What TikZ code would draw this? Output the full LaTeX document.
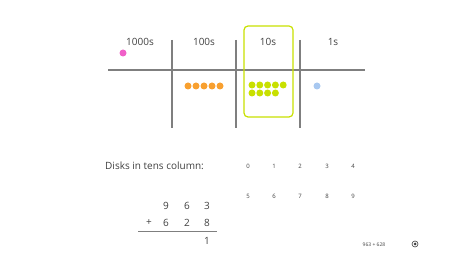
\documentclass[tikz,border=0pt]{standalone}
\usepackage{fontspec}
\setmainfont{Open Sans}
\definecolor{txt}{HTML}{404040}
\definecolor{grline}{HTML}{7F7F7F}
\definecolor{pinkd}{HTML}{F060C8}
\definecolor{oranged}{HTML}{F8A030}
\definecolor{greend}{HTML}{C8E000}
\definecolor{blued}{HTML}{A8C8F0}
\begin{document}
\begin{tikzpicture}[x=1pt,y=-1pt,
  lbl/.style={font=\fontsize{10}{12}\selectfont, text=txt, inner sep=0pt},
  small/.style={font=\fontsize{6}{7}\selectfont, text=txt, inner sep=0pt},
  tiny/.style={font=\fontsize{5}{6}\selectfont, text=txt, inner sep=0pt},
  rule/.style={draw=grline, line width=1.5pt},
  disk/.style={circle, inner sep=0pt, minimum size=7pt}]
\useasboundingbox (0,0) rectangle (473,253);
% axis
\coordinate (hl) at (108,70);
\coordinate (hr) at (365,70);
\draw[rule] (hl) -- (hr);
\foreach \x/\n in {172/a,236/b,300/c}{
  \coordinate (t\n) at (\x,40);
  \coordinate (b\n) at (\x,128);
  \draw[rule] (t\n) -- (b\n);
}
% highlight box
\node[draw=greend, line width=1.2pt, rounded corners=4pt, minimum width=49pt, minimum height=91pt, inner sep=0pt] (box) at (268.5,71.5) {};
% labels
\node[lbl] (l1000) at (140,42) {1000s};
\node[lbl] (l100) at (204,42) {100s};
\node[lbl] (l10) at (268,42) {10s};
\node[lbl] (l1) at (333,42) {1s};
% disks
\node[disk, fill=pinkd] (pk) at (123,53) {};
\foreach \i in {0,...,4}{
  \node[disk, fill=oranged] (o\i) at (188+8*\i,86) {};
  \node[disk, fill=greend] (g\i) at (252+7.8*\i,85) {};
}
\foreach \i in {0,...,3}{
  \node[disk, fill=greend] (h\i) at (252+7.8*\i,93) {};
}
\node[disk, fill=blued] (bl) at (317,86) {};
% question
\node[lbl, anchor=west] (q) at (105,166) {Disks in tens column:};
\foreach \d/\x in {0/248,1/274,2/300,3/327,4/353}{
  \node[small] (d\d) at (\x,166) {\d};
}
\foreach \d/\x in {5/248,6/274,7/300,8/327,9/353}{
  \node[small] (d\d) at (\x,196) {\d};
}
% addition
\node[lbl] (a1) at (166,206) {9};
\node[lbl] (a2) at (187,206) {6};
\node[lbl] (a3) at (207,206) {3};
\node[lbl] (p) at (149,223) {+};
\node[lbl] (b1) at (166,223) {6};
\node[lbl] (b2) at (187,223) {2};
\node[lbl] (b3) at (207,223) {8};
\coordinate (sl) at (138,231);
\coordinate (sr) at (217,231);
\draw[draw=grline, line width=0.8pt] (sl) -- (sr);
\node[lbl] (r3) at (207,241) {1};
% footer
\node[tiny] (ft) at (374,245) {963 + 628};
\node[circle, draw=txt, line width=0.6pt, minimum size=6pt, inner sep=0pt] (rad) at (415,244) {};
\fill[txt] (rad.center) circle (1.5pt);
\end{tikzpicture}
\end{document}
